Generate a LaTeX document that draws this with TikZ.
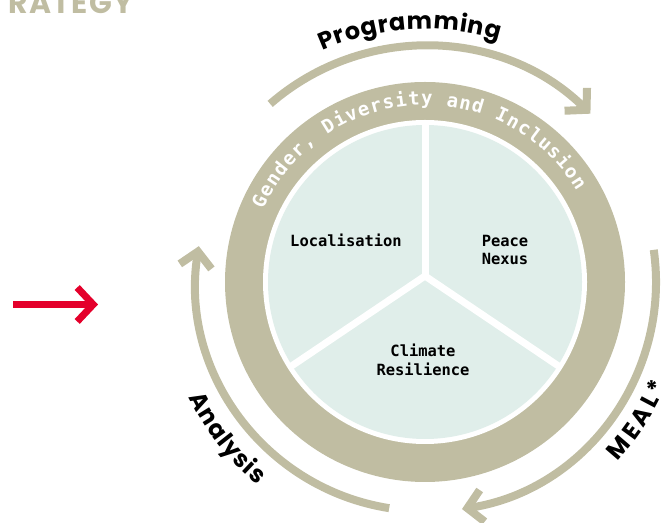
\documentclass[tikz,border=0pt]{standalone}
\usepackage{fontspec}
\usetikzlibrary{arrows.meta}
\usetikzlibrary{decorations.text}

\newfontfamily\monoFace{DejaVu Sans Mono}
\newfontfamily\headFace{Poppins}
\newcommand\ringFont{\monoFace\bfseries\fontsize{19}{19}\selectfont\color{white}}
\newcommand\sliceFont{\monoFace\bfseries\fontsize{15.5}{18.5}\selectfont}
\newcommand\cycleFont{\headFace\bfseries\fontsize{24}{24}\selectfont}

\definecolor{ringOlive}{RGB}{192,189,162}
\definecolor{paleTeal}{RGB}{224,238,234}
\definecolor{alertRed}{RGB}{228,0,43}

\begin{document}
\begin{tikzpicture}[x = 1bp, y = 1bp]
\tikzstyle{sliceStyle} = [align = center, font = \sliceFont, inner sep = 0pt]
\tikzstyle{dividerStyle} = [draw = white, line width = 7bp]
\tikzstyle{arcStyle} = [draw = ringOlive, line width = 8bp, -{Straight Barb[length = 15bp, width = 32bp, sharp]}]
\tikzstyle{cycleText} = [decorate, decoration = {text along path, text align = fit to path}]
\useasboundingbox (0, 0) rectangle (666, 523);
\coordinate (c) at (425, 241);
\coordinate (hub) at (425, 247);
\fill[ringOlive] (c) circle[radius = 200];
\fill[white] (c) circle[radius = 162];
\fill[paleTeal] (c) circle[radius = 157];
\begin{scope}
\clip (c) circle[radius = 160];
\draw[dividerStyle] (hub) -- ++(90:200);
\draw[dividerStyle] (hub) -- ++(214:200);
\draw[dividerStyle] (hub) -- ++(326:200);
\end{scope}
\path[cycleText, decoration = {text = {|\ringFont|Gender, Diversity and Inclusion}}] (c) ++(156:177) arc[start angle = 156, end angle = 31, radius = 177];
\node[sliceStyle] (loc) at (346, 283) {Localisation};
\node[sliceStyle] (peace) at (505, 273) {Peace\\Nexus};
\node[sliceStyle] (climate) at (423, 163) {Climate\\Resilience};
\draw[arcStyle] (c) ++(131:236) arc[start angle = 131, end angle = 45.5, radius = 236];
\draw[arcStyle] (c) ++(8:231) arc[start angle = 8, end angle = -81, radius = 230];
\draw[arcStyle] (c) ++(261:229) arc[start angle = 261, end angle = 171, radius = 229];
\path[cycleText, decoration = {text = {|\cycleFont|Programming}}] (c) ++(114:253) arc[start angle = 114, end angle = 73, radius = 253];
\path[cycleText, decoration = {text = {|\cycleFont|Analysis}}] (c) ++(206:263) arc[start angle = 206, end angle = 230.5, radius = 263];
\path[cycleText, decoration = {text = {|\cycleFont|MEAL*}}] (c) ++(-43:263) arc[start angle = -43, end angle = -23, radius = 263];
\coordinate (arrowTail) at (13, 218.5);
\coordinate (arrowHead) at (98, 218.5);
\draw[alertRed, line width = 7bp, -{Straight Barb[length = 16bp, width = 34bp, sharp]}] (arrowTail) -- (arrowHead);
\node[anchor = base east, inner sep = 0pt, text = ringOlive, font = \headFace\bfseries\fontsize{30}{30}\selectfont\addfontfeature{LetterSpace = 5}] (title) at (134, 509) {STRATEGY};
\end{tikzpicture}
\end{document}
